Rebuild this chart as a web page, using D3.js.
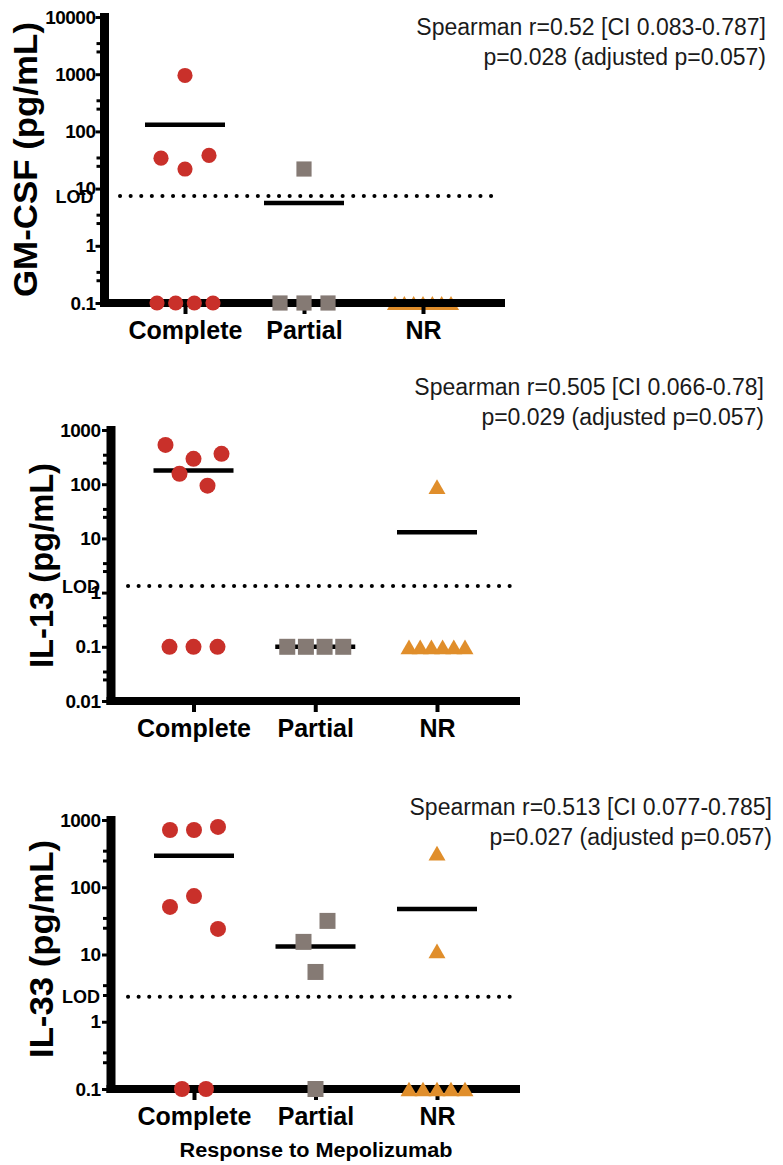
<!DOCTYPE html>
<html>
<head>
<meta charset="utf-8">
<script src="https://cdn.jsdelivr.net/npm/d3@7"></script>
<style>
  body { margin: 0; background: #fff; }
  svg { display: block; }
</style>
</head>
<body>
<div id="chart"></div>
<script>
// ---- data ----
const categories = ["Complete", "Partial", "NR"];

const gmcsfComplete = [950, 34, 22, 38, 0.1, 0.1, 0.1, 0.1];
const gmcsfPartial = [22, 0.1, 0.1, 0.1];
const gmcsfNR = [0.1, 0.1, 0.1, 0.1, 0.1, 0.1, 0.1];

const il13Complete = [531, 156, 294, 94, 363, 0.1, 0.1, 0.1];
const il13Partial = [0.1, 0.1, 0.1, 0.1];
const il13NR = [90, 0.1, 0.1, 0.1, 0.1, 0.1, 0.1];

const il33Complete = [710, 710, 790, 51, 74, 24, 0.1, 0.1];
const il33Partial = [15.4, 31.6, 5.5, 0.1];
const il33NR = [322, 11.3, 0.1, 0.1, 0.1, 0.1, 0.1];

const lodValues = [7.4, 1.32, 2.35];

const gmcsfTicks = [0.1, 1, 10, 100, 1000, 10000];
const il13Ticks = [0.01, 0.1, 1, 10, 100, 1000];
const il33Ticks = [0.1, 1, 10, 100, 1000];

const yTitles = ["GM-CSF (pg/mL)", "IL-13 (pg/mL)", "IL-33 (pg/mL)"];
const gmcsfStats = ["Spearman r=0.52 [CI 0.083-0.787]", "p=0.028 (adjusted p=0.057)"];
const il13Stats = ["Spearman r=0.505 [CI 0.066-0.78]", "p=0.029 (adjusted p=0.057)"];
const il33Stats = ["Spearman r=0.513 [CI 0.077-0.785]", "p=0.027 (adjusted p=0.057)"];
const xTitle = "Response to Mepolizumab";

// ---- styling / layout ----
const FONT = "'Liberation Sans', Arial, Helvetica, sans-serif";
const colors = { Complete: "#c9302a", Partial: "#857a74", NR: "#e08e2b" };
const shapes = { Complete: d3.symbolCircle, Partial: d3.symbolSquare, NR: d3.symbolTriangle };
const sizes = { Complete: 201, Partial: 256, NR: 125 };

const panels = [
  {
    series: [gmcsfComplete, gmcsfPartial, gmcsfNR], domain: [0.1, 10000], ticks: gmcsfTicks,
    lod: lodValues[0], title: yTitles[0], stats: gmcsfStats,
    top: 17, bottom: 303, axisX: 104.5, xRange: [185, 423], xEnd: 505,
    lodStart: 120, lodEnd: 500, tickPad: 0, markScale: 0.9, underAxis: ["NR"],
    titleX: 37, titleY: 159.5, titleLen: 275, statsX: 766, statsY: 35
  },
  {
    series: [il13Complete, il13Partial, il13NR], domain: [0.01, 1000], ticks: il13Ticks,
    lod: lodValues[1], title: yTitles[1], stats: il13Stats,
    top: 430, bottom: 701, axisX: 111, xRange: [193.5, 437], xEnd: 520,
    lodStart: 128, lodEnd: 520, tickPad: 1.5, markScale: 1, underAxis: [],
    titleX: 53, titleY: 565.5, titleLen: 205, statsX: 764, statsY: 395
  },
  {
    series: [il33Complete, il33Partial, il33NR], domain: [0.1, 1000], ticks: il33Ticks,
    lod: lodValues[2], title: yTitles[2], stats: il33Stats,
    top: 820, bottom: 1089, axisX: 111, xRange: [194, 437], xEnd: 520,
    lodStart: 128, lodEnd: 520, tickPad: 1.5, markScale: 1, underAxis: [],
    titleX: 53, titleY: 949, titleLen: 218, statsX: 772, statsY: 815
  }
];

const svg = d3.select("#chart").append("svg")
  .attr("width", 783)
  .attr("height", 1165)
  .style("font-family", FONT);

// spread points that would overlap vertically, like a column scatter
function swarm(vals, y, cx) {
  const pts = vals.map((v, i) => ({ v, i, py: y(v) }));
  const sorted = pts.slice().sort((a, b) => a.py - b.py || a.i - b.i);
  const clusters = [];
  let cur = [];
  sorted.forEach(p => {
    if (cur.length && p.py - cur[cur.length - 1].py >= 24) { clusters.push(cur); cur = []; }
    cur.push(p);
  });
  if (cur.length) clusters.push(cur);
  clusters.forEach(c => {
    c.sort((a, b) => a.i - b.i);
    const n = c.length;
    const step = n > 1 ? Math.min(24, 56 / (n - 1)) : 0;
    c.forEach((p, k) => { p.px = cx + (k - (n - 1) / 2) * step; });
  });
  return pts;
}

panels.forEach(p => {
  const y = d3.scaleLog().domain(p.domain).range([p.bottom, p.top]);
  const x = d3.scalePoint().domain(categories).range(p.xRange);
  const g = svg.append("g");

  const drawPoints = (cat, vals) => {
    const sym = d3.symbol().type(shapes[cat]).size(sizes[cat] * p.markScale);
    // triangles: centre the bounding box rather than the centroid
    const shift = cat === "NR" ? Math.sqrt(sizes[cat] * p.markScale / (Math.sqrt(3) * 3)) / 2 : 0;
    g.append("g").selectAll("path")
      .data(swarm(vals, y, x(cat)))
      .join("path")
      .attr("d", sym)
      .attr("transform", d => `translate(${d.px},${d.py + shift})`)
      .attr("fill", colors[cat]);
  };

  // LOD dotted line
  g.append("line")
    .attr("x1", p.lodStart).attr("x2", p.lodEnd)
    .attr("y1", y(p.lod)).attr("y2", y(p.lod))
    .attr("stroke", "#000").attr("stroke-width", 4)
    .attr("stroke-linecap", "round")
    .attr("stroke-dasharray", "0.1 10.5");

  // markers that sit under the axis line
  categories.forEach((cat, ci) => {
    if (p.underAxis.includes(cat)) drawPoints(cat, p.series[ci]);
  });

  // y axis: major ticks with labels
  const ya = g.append("g")
    .attr("transform", `translate(${p.axisX},0)`)
    .call(d3.axisLeft(y).tickValues(p.ticks).tickFormat(d3.format("~g"))
      .tickSize(9).tickPadding(p.tickPad));
  ya.select(".domain").remove();
  ya.attr("font-family", FONT).attr("font-size", 19).attr("font-weight", "bold");
  ya.selectAll(".tick line").attr("stroke-width", 3);
  ya.selectAll(".tick text").attr("fill", "#000").attr("letter-spacing", -0.5);

  // y axis: minor ticks
  const minors = [];
  p.ticks.slice(0, -1).forEach(t => { minors.push(t * 2.5, t * 3.5); });
  const ym = g.append("g")
    .attr("transform", `translate(${p.axisX},0)`)
    .call(d3.axisLeft(y).tickValues(minors).tickFormat("").tickSize(8));
  ym.select(".domain").remove();
  ym.selectAll(".tick line").attr("stroke-width", 3);

  // thick axis bars
  g.append("line")
    .attr("x1", p.axisX).attr("x2", p.axisX)
    .attr("y1", y.range()[1] - 4).attr("y2", y.range()[0] + 4)
    .attr("stroke", "#000").attr("stroke-width", 9);
  g.append("line")
    .attr("x1", p.axisX - 4.5).attr("x2", p.xEnd)
    .attr("y1", y.range()[0]).attr("y2", y.range()[0])
    .attr("stroke", "#000").attr("stroke-width", 8);

  // x axis ticks and category labels
  const xa = g.append("g")
    .attr("transform", `translate(0,${y.range()[0]})`)
    .call(d3.axisBottom(x).tickSize(11).tickPadding(7));
  xa.select(".domain").remove();
  xa.attr("font-family", FONT).attr("font-size", 25).attr("font-weight", "bold");
  xa.selectAll(".tick line").attr("stroke-width", 4);
  xa.selectAll(".tick text").attr("fill", "#000");

  // LOD label (overlaps a tick label, as in the original)
  g.append("text")
    .attr("x", p.axisX - 11)
    .attr("y", y(p.lod))
    .attr("dy", "0.36em")
    .attr("text-anchor", "end")
    .attr("font-size", 18)
    .attr("font-weight", "bold")
    .text("LOD");

  // mean lines
  categories.forEach((cat, ci) => {
    const m = d3.mean(p.series[ci]);
    g.append("line")
      .attr("x1", x(cat) - 40).attr("x2", x(cat) + 40)
      .attr("y1", y(m)).attr("y2", y(m))
      .attr("stroke", "#000").attr("stroke-width", 4.5);
  });

  // remaining markers
  categories.forEach((cat, ci) => {
    if (!p.underAxis.includes(cat)) drawPoints(cat, p.series[ci]);
  });

  // y title
  g.append("text")
    .attr("transform", `translate(${p.titleX},${p.titleY}) rotate(-90)`)
    .attr("text-anchor", "middle")
    .attr("font-size", 34)
    .attr("font-weight", "bold")
    .attr("textLength", p.titleLen)
    .attr("lengthAdjust", "spacingAndGlyphs")
    .text(p.title);

  // statistics text
  g.selectAll(".stat")
    .data(p.stats)
    .join("text")
    .attr("class", "stat")
    .attr("x", p.statsX)
    .attr("y", (d, i) => p.statsY + i * 30)
    .attr("text-anchor", "end")
    .attr("font-size", 23)
    .attr("fill", "#1a1a1a")
    .text(d => d);
});

svg.append("text")
  .attr("x", 316)
  .attr("y", 1157)
  .attr("text-anchor", "middle")
  .attr("font-size", 20)
  .attr("font-weight", "bold")
  .attr("textLength", 273)
  .attr("lengthAdjust", "spacingAndGlyphs")
  .text(xTitle);
</script>
</body>
</html>
